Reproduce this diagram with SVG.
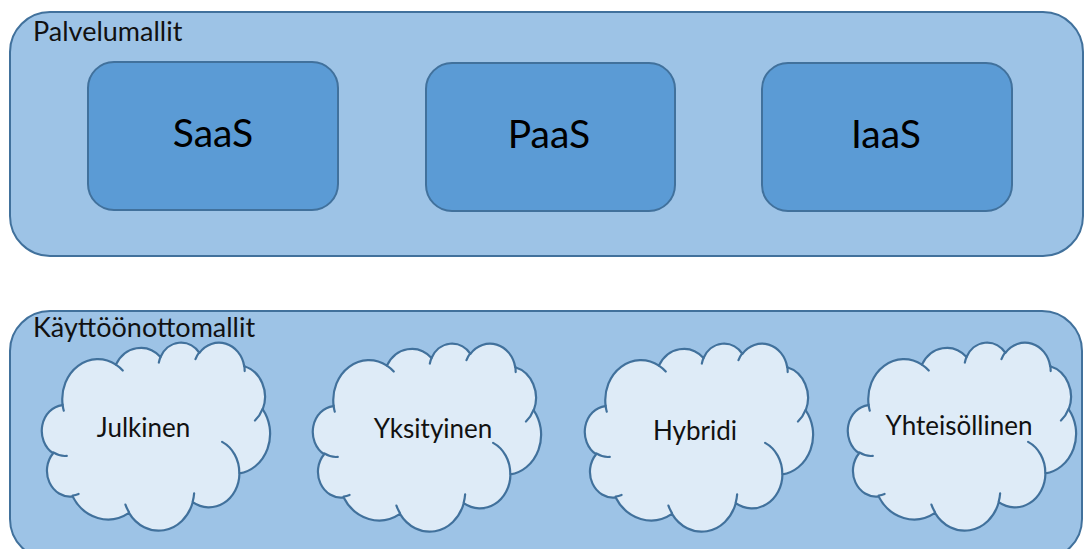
<svg xmlns="http://www.w3.org/2000/svg" xmlns:xlink="http://www.w3.org/1999/xlink" width="1085" height="549" viewBox="0 0 1085 549">
<style>
.outer{fill:#9DC3E6;stroke:#41719C;stroke-width:2}
.inner{fill:#5B9BD5;stroke:#41719C;stroke-width:2}
.cfill{fill:#DEEBF7;stroke:#41719C;stroke-width:2.2;stroke-linejoin:round}
.ctick{fill:none;stroke:#41719C;stroke-width:2.2;stroke-linecap:round}
.lbl{font-family:Lato,"Liberation Sans",sans-serif;font-size:27px;fill:#111}
.big{font-family:Lato,"Liberation Sans",sans-serif;font-size:39px;fill:#000;text-anchor:middle}
.ct{font-family:Lato,"Liberation Sans",sans-serif;font-size:26px;fill:#111;text-anchor:middle}
</style>
<defs>
<g id="cloud">
<path class="cfill" d="M20.58,62.54 A35.64,39.99 0 0 1 73.92,22.64 A28.15,31.63 0 0 1 118.52,14.93 A23.04,25.87 0 0 1 157.46,10.79 A25.63,28.70 0 0 1 202.24,24.26 A28.15,31.65 0 0 1 220.72,67.28 A35.76,40.12 0 0 1 197.42,131.44 A30.53,34.24 0 0 1 150.72,160.21 A35.64,40.10 0 0 1 87.00,170.88 A40.74,45.88 0 0 1 30.66,154.38 A23.01,25.75 0 0 1 11.17,111.21 A22.93,25.87 0 0 1 20.41,63.11 Z"/>
<path class="ctick" d="M24.77,113.92 A22.93,25.87 0 0 1 11.40,110.45 M36.56,151.88 A23.01,25.75 0 0 1 30.71,153.54 M86.97,170.12 A35.64,40.10 0 0 1 83.43,162.53 M152.14,151.23 A35.64,40.10 0 0 1 150.74,159.54 M180.13,99.89 A30.53,34.24 0 0 1 197.29,130.95 M220.60,66.82 A28.15,31.65 0 0 1 212.96,78.47 M202.26,23.61 A25.63,28.70 0 0 1 202.67,29.11 M153.47,17.20 A25.63,28.70 0 0 1 157.39,10.18 M116.86,20.54 A23.04,25.87 0 0 1 118.75,14.50 M73.89,22.59 A35.64,39.99 0 0 1 80.75,28.47 M21.78,68.71 A35.64,39.99 0 0 1 20.59,62.55"/>
</g>
</defs>
<g id="palvelumallit">
<rect class="outer" x="10" y="12" width="1073" height="244" rx="40" ry="40"/>
<text class="lbl" x="33" y="41">Palvelumallit</text>
</g>
<g id="saas">
<rect class="inner" x="88" y="62" width="250" height="148" rx="26" ry="26"/>
<text class="big" x="213" y="147">SaaS</text>
</g>
<g id="paas">
<rect class="inner" x="426" y="63" width="249" height="148" rx="26" ry="26"/>
<text class="big" x="549" y="148">PaaS</text>
</g>
<g id="iaas">
<rect class="inner" x="762" y="63" width="250" height="148" rx="26" ry="26"/>
<text class="big" x="886" y="148">IaaS</text>
</g>
<g id="kayttoonottomallit">
<rect class="outer" x="10" y="311" width="1072" height="248" rx="40" ry="40"/>
<text class="lbl" x="33" y="337">Käyttöönottomallit</text>
</g>
<g id="julkinen" transform="translate(42,342)">
<use xlink:href="#cloud"/>
<text class="ct" x="101.5" y="95">Julkinen</text>
</g>
<g id="yksityinen" transform="translate(313,343)">
<use xlink:href="#cloud"/>
<text class="ct" x="120" y="95">Yksityinen</text>
</g>
<g id="hybridi" transform="translate(585,343)">
<use xlink:href="#cloud"/>
<text class="ct" x="110" y="97">Hybridi</text>
</g>
<g id="yhteisollinen" transform="translate(848,342)">
<use xlink:href="#cloud"/>
<text class="ct" x="111" y="93">Yhteisöllinen</text>
</g>
<g id="connectors"></g>
</svg>
